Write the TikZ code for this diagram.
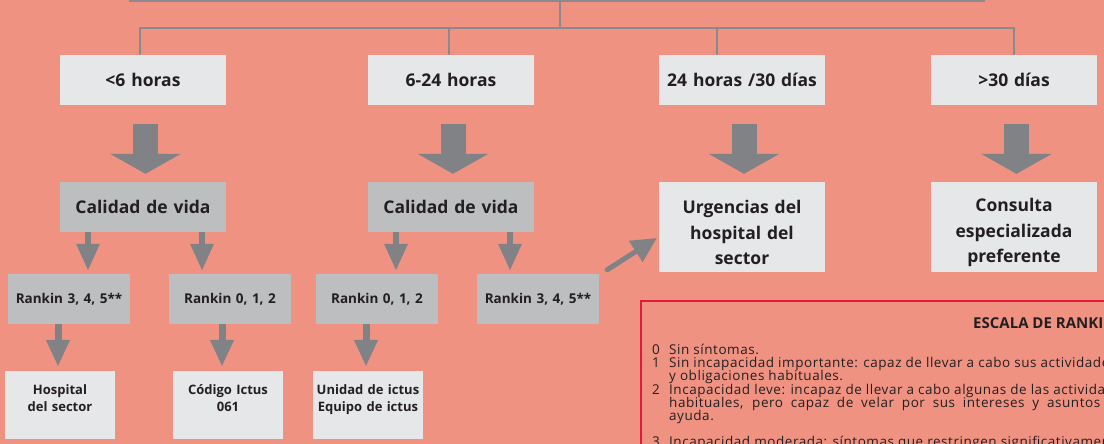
\documentclass[tikz,border=0pt]{standalone}
\usepackage{fontspec}
\setmainfont{Open Sans}
\newfontfamily\scalefont[LetterSpace=4]{Open Sans}
\usetikzlibrary{arrows.meta}
\definecolor{bgsalmon}{HTML}{F09282}
\definecolor{boxlight}{HTML}{E6E7E8}
\definecolor{boxgrey}{HTML}{BCBEC0}
\definecolor{arrowgrey}{HTML}{808285}
\definecolor{linegrey}{HTML}{8A8A8E}
\definecolor{scalered}{HTML}{E21B3C}
\definecolor{textdark}{HTML}{231F20}
% pushes a box text down (first line) or up (last line)
\newcommand{\pushdown}{\rule{0pt}{25pt}}
\newcommand{\pushup}{\rule[-14pt]{0pt}{0pt}}
\tikzset{
	treenode/.style = {
		rectangle,
		align=center,
		inner sep=0pt,
		text=textdark
	},
	node_time/.style = {
		treenode,
		fill=boxlight,
		text width=166pt,
		minimum height=50pt,
		font=\bfseries\fontsize{17.5}{25.5}\selectfont
	},
	node_qual/.style = {
		node_time,
		fill=boxgrey
	},
	node_dest/.style = {
		node_time,
		minimum height=90pt
	},
	node_rankin/.style = {
		treenode,
		fill=boxgrey,
		text width=122pt,
		minimum height=50pt,
		font=\bfseries\fontsize{13.5}{16}\selectfont
	},
	node_end/.style = {
		treenode,
		fill=boxlight,
		text width=110pt,
		minimum height=68pt,
		font=\bfseries\fontsize{13}{17}\selectfont
	},
	line_tree/.style = {
		draw=linegrey,
		line width=1.4pt
	},
	arrow_big/.style = {
		draw=arrowgrey,
		line width=25pt,
		-{Triangle[width=70pt,length=20pt]},
		shorten <=19pt,
		shorten >=8pt
	},
	arrow_small/.style = {
		draw=arrowgrey,
		line width=6pt,
		-{Triangle[width=22pt,length=27pt]},
		shorten >=3pt
	},
	arrow_diag/.style = {
		draw=arrowgrey,
		line width=5pt,
		line cap=round,
		-{Triangle[width=24pt,length=25pt]}
	},
	scale_text/.style = {
		anchor=base west,
		inner sep=0pt,
		text=textdark,
		font=\scalefont\fontsize{13.5}{13}\selectfont
	}
}

\begin{document}
\begin{tikzpicture}[x=1pt,y=-1pt]
\useasboundingbox (0,0) rectangle (1104,444);
\clip (0,0) rectangle (1104,444);
\fill[bgsalmon] (0,0) rectangle (1104,444);

% time boxes
\node [node_time] (lt6) at (143,80) {<6 horas};
\node [node_time] (h624) at (451,80) {6-24 horas};
\node [node_time] (h24) at (742,80) {24 horas /30 días};
\node [node_time] (d30) at (1014,80) {>30 días};

\node [node_qual] (cv1) at (143,207) {Calidad de vida};
\node [node_qual] (cv2) at (451,207) {Calidad de vida};
\node [node_dest] (urg) at (742,227) {\pushdown Urgencias del\\hospital del\\sector};
\node [node_dest] (con) at (1014,227) {\pushdown Consulta\\especializada\\preferente};

\node [node_rankin] (rk1) at (69,299) {Rankin 3, 4, 5**};
\node [node_rankin] (rk2) at (230,299) {Rankin 0, 1, 2};
\node [node_rankin] (rk3) at (377,299) {Rankin 0, 1, 2};
\node [node_rankin] (rk4) at (538,299) {Rankin 3, 4, 5**};

\node [node_end] (hos) at (60,405) {Hospital\\del sector\pushup};
\node [node_end] (cod) at (228,405) {Código Ictus\\061\pushup};
\node [node_end] (uni) at (368,405) {Unidad de ictus\\Equipo de ictus\pushup};

% lines on top
\coordinate (top_l) at (129,1);
\coordinate (top_r) at (985,1);
\coordinate (top_m) at (560,1);
\coordinate (bus_l) at (140,28);
\coordinate (bus_r) at (1014,28);
\coordinate (bus_m) at (560,28);
\draw [line_tree] (top_l) -- (top_r);
\draw [line_tree] (top_m) -- (bus_m);
\draw [line_tree] ([xshift=-3pt]lt6.north) -- (bus_l) -- (bus_r) -- (d30.north);
\draw [line_tree] ([xshift=-2pt]h624.north) -- ([xshift=-2pt]h624.north |- bus_l);
\draw [line_tree] ([xshift=-25pt]h24.north) -- ([xshift=-25pt]h24.north |- bus_l);

% arrows
\draw [arrow_big] ([xshift=2.5pt]lt6.south) -- ([xshift=2.5pt]cv1.north);
\draw [arrow_big] ([xshift=2pt]h624.south) -- ([xshift=2pt]cv2.north);
\draw [arrow_big] ([xshift=2pt]h24.south) -- ([xshift=2pt]urg.north);
\draw [arrow_big] ([xshift=2.5pt]d30.south) -- ([xshift=2.5pt]con.north);

\draw [arrow_small] ([xshift=-55pt]cv1.south) -- ([xshift=19pt]rk1.north);
\draw [arrow_small] ([xshift=59pt]cv1.south) -- ([xshift=-28pt]rk2.north);
\draw [arrow_small] ([xshift=-55pt]cv2.south) -- ([xshift=19pt]rk3.north);
\draw [arrow_small] ([xshift=59pt]cv2.south) -- ([xshift=-28pt]rk4.north);

\draw [arrow_small, line width=7pt, shorten >=4pt] ([xshift=-11pt]rk1.south) -- ([xshift=-2pt]hos.north);
\draw [arrow_small, line width=7pt, shorten >=4pt] ([xshift=-8pt]rk2.south) -- ([xshift=-6pt]cod.north);
\draw [arrow_small, line width=7pt, shorten >=4pt] ([xshift=-11pt]rk3.south) -- ([xshift=-2pt]uni.north);

\draw [arrow_diag] ([shift={(8,-4)}]rk4.north east) -- ([shift={(-2,11)}]urg.west);

% Rankin scale
\draw [scalered, line width=1.5pt] (641,301) rectangle (1500,600);
\node [scale_text, font=\bfseries\fontsize{15}{15}\selectfont] (sc_title) at (973,328) {ESCALA DE RANKIN};
\node [scale_text] (n0) at (652,354) {0};
\node [scale_text] (t0) at (669,354) {Sin síntomas.};
\node [scale_text] (n1) at (652,367) {1};
\node [scale_text] (t1) at (669,367) {Sin incapacidad importante: capaz de llevar a cabo sus actividades};
\node [scale_text] (t1b) at (669,380) {y obligaciones habituales.};
\node [scale_text] (n2) at (652,394) {2};
\node [scale_text] (t2) at (669,394) {Incapacidad leve: incapaz de llevar a cabo algunas de las actividades};
\node [scale_text] (t2b) at (669,407) {\makebox[431pt][s]{habituales, pero capaz de velar por sus intereses y asuntos}};
\node [scale_text] (t2c) at (669,420) {ayuda.};
\node [scale_text] (n3) at (652,446) {3};
\node [scale_text] (t3) at (669,446) {Incapacidad moderada: síntomas que restringen significativamente};
\end{tikzpicture}
\end{document}
